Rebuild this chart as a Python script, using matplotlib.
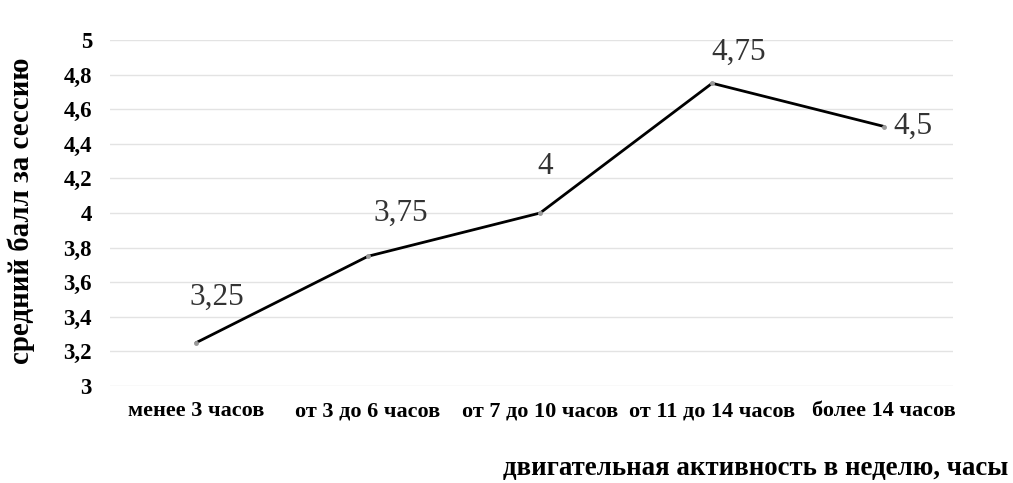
import matplotlib
matplotlib.use("Agg")
import matplotlib.pyplot as plt
from matplotlib.ticker import FixedLocator, FuncFormatter

# Data
categories = ["менее 3 часов", "от 3 до 6 часов", "от 7 до 10 часов",
              "от 11 до 14 часов", "более 14 часов"]
scores = [3.25, 3.75, 4.0, 4.75, 4.5]
y_ticks = [3.0, 3.2, 3.4, 3.6, 3.8, 4.0, 4.2, 4.4, 4.6, 4.8, 5.0]

plt.rcParams["font.family"] = ["Liberation Serif", "DejaVu Serif"]

fig = plt.figure(figsize=(10.13, 4.83), dpi=100)
ax = fig.add_axes([110 / 1013, 1 - 386 / 483, 843 / 1013, 346 / 483])

x = list(range(len(categories)))
ax.plot(x, scores, color="black", lw=2.0, solid_capstyle="round",
        solid_joinstyle="miter", zorder=3)
ax.plot(x, scores, ls="none", marker="o", ms=2.5, color="#9a9a9a", zorder=4)

ax.set_xlim(-0.5, 4.4)
ax.set_ylim(3.0, 5.0)
ax.yaxis.set_major_locator(FixedLocator(y_ticks))
ax.yaxis.set_major_formatter(FuncFormatter(lambda v, p: f"{v:g}".replace(".", ",")))
ax.set_xticks(x)
ax.set_xticklabels(categories, fontsize=16, fontweight="bold")
for t in ax.get_yticklabels():
    t.set_fontsize(16.5)
    t.set_fontweight("bold")
ax.tick_params(axis="both", length=0)
ax.tick_params(axis="y", pad=13)
ax.tick_params(axis="x", pad=11)

ax.grid(axis="y", color="#e3e3e3", lw=1.0)
ax.set_axisbelow(True)
for s in ax.spines.values():
    s.set_visible(False)

# Value labels beside each point (offsets in pixels)
label_offsets = [(21, 45), (33, 43), (5, 46), (27, 31), (29, 0)]
for xi, yi, (dx, dy) in zip(x, scores, label_offsets):
    ax.annotate(f"{yi:g}".replace(".", ","), (xi, yi),
                xytext=(dx * 0.72, dy * 0.72), textcoords="offset points",
                ha="center", va="center", fontsize=22.5, color="#333333")

fig.text(21 / 1013, 1 - 211 / 483, "средний балл за сессию", rotation=90,
         ha="center", va="center", fontsize=20.8, fontweight="bold")
fig.text(1008 / 1013, 1 - 468 / 483, "двигательная активность в неделю, часы",
         ha="right", va="center", fontsize=19.4, fontweight="bold")

fig.savefig("out.png", dpi=100)
